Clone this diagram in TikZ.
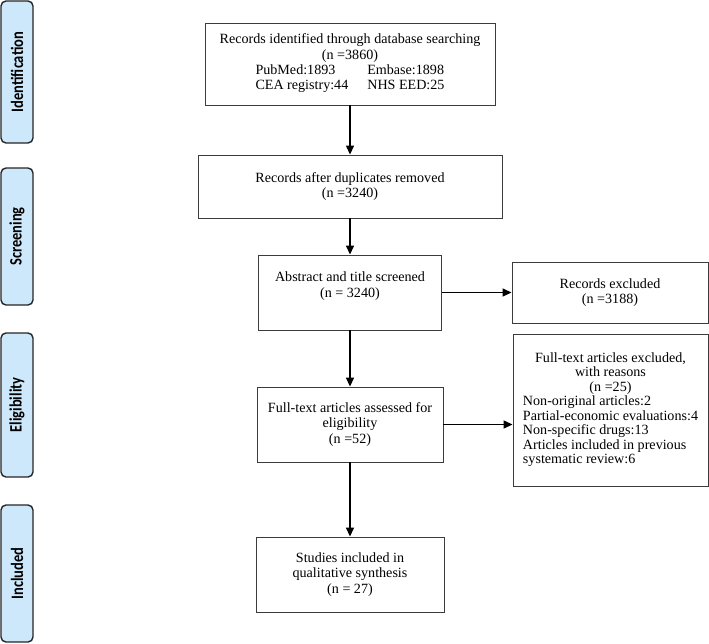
\documentclass[tikz,border=0pt]{standalone}
\usepackage{fontspec}
\usepackage{graphicx}
\setmainfont{Liberation Serif}
\newfontfamily\phasefont{Carlito}
\usetikzlibrary{arrows.meta}

\definecolor{phasebg}{RGB}{205,232,250}
\definecolor{boxline}{RGB}{60,60,60}

\newcommand{\tallword}[1]{\scalebox{1}[1.2]{#1}}

\tikzset{
  box/.style={draw=boxline, line width=0.9pt, align=center, inner sep=0pt,
    font=\fontsize{14.1}{15.5}\selectfont},
  phase/.style={draw=black!85, fill=phasebg, line width=1.4pt, rounded corners=5pt,
    rotate=90, minimum height=32pt, inner sep=0pt,
    font=\phasefont\bfseries\fontsize{14.5}{16}\selectfont},
  flow/.style={-{Triangle[length=9pt,width=8pt]}, line width=1.4pt}
}

\begin{document}
\begin{tikzpicture}[x=1pt, y=-1pt]
\useasboundingbox (0,0) rectangle (709,643);

\begin{scope}

\node[phase, minimum width=142pt] (identification) at (17,72) {\tallword{Identification}};
\node[phase, minimum width=137pt] (screening) at (17,236.5) {\tallword{Screening}};
\node[phase, minimum width=144pt] (eligibility) at (17,405) {\tallword{Eligibility}};
\node[phase, minimum width=137pt] (included) at (17,573.5) {\tallword{Included}};

\node[box, minimum width=290pt, minimum height=82pt] (found) at (350,64)
  {Records identified through database searching\\ (n =3860)\\
   \begin{tabular}{@{}l@{\hspace{19pt}}l@{}}
   PubMed:1893 & Embase:1898\\
   CEA registry:44 & NHS EED:25
   \end{tabular}};
\node[box, minimum width=304pt, minimum height=63pt] (dedup) at (350,186.5)
  {Records after duplicates removed\\ (n =3240)};
\node[box, minimum width=183pt, minimum height=75pt] (screened) at (350,292.5)
  {Abstract and title screened\\ (n = 3240)\\ ~};
\node[box, minimum width=196pt, minimum height=61pt] (dropped) at (610,292.5)
  {Records excluded\\ (n =3188)};
\node[box, minimum width=186pt, minimum height=75pt] (assessed) at (350,424.5)
  {Full-text articles assessed for\\ eligibility\\ (n =52)};
\node[box, minimum width=195pt, minimum height=152pt, font=\fontsize{14.1}{14.5}\selectfont] (reasons) at (610.5,410)
  {\begin{tabular}{@{}l@{}}
   \multicolumn{1}{@{}c@{}}{Full-text articles excluded,}\\
   \multicolumn{1}{@{}c@{}}{with reasons}\\
   \multicolumn{1}{@{}c@{}}{(n =25)}\\
   Non-original articles:2\\
   Partial-economic evaluations:4\\
   Non-specific drugs:13\\
   Articles included in previous\\
   systematic review:6
   \end{tabular}};
\node[box, minimum width=188pt, minimum height=75pt] (synth) at (350,574.5)
  {Studies included in\\ qualitative synthesis\\ (n = 27)};

\draw[flow] (found) -- (dedup);
\draw[flow] (dedup) -- (screened);
\draw[flow] (screened) -- (assessed);
\draw[flow] (assessed) -- (synth);
\draw[flow] (screened) -- (dropped);
\draw[flow] (assessed.east) -- (assessed.east -| reasons.west);

\end{scope}
\end{tikzpicture}
\end{document}
